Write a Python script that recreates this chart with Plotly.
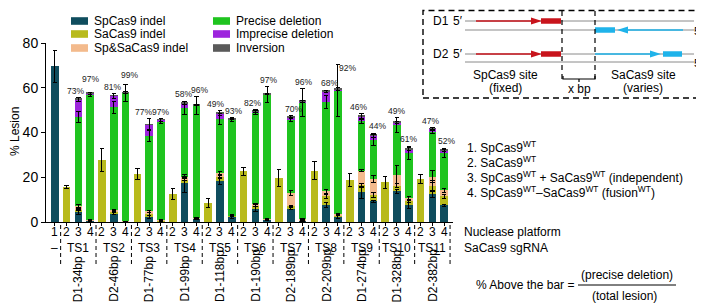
import plotly.graph_objects as go

# ---------------- data ----------------
bar_labels = ['1'] + ['2', '3', '4'] * 11
groups = ['TS%d' % i for i in range(1, 12)]
sites = ['D1-34bp', 'D2-46bp', 'D1-77bp', 'D1-99bp', 'D1-118bp', 'D1-190bp',
         'D2-189bp', 'D2-209bp', 'D1-274bp', 'D1-328bp', 'D2-382bp']

sp_indel = [69.5, None, 4.5, 0.5, None, 4.0, 0.2, None, 2.3, 0.3, None, 17.4, 1.5,
            None, 18.4, 2.5, None, 5.9, 1.0, None, 6.2, 0.5, None, 7.7, 2.5,
            None, 13.2, 9.2, None, 13.7, 7.4, None, 12.5, 7.4]
sa_indel = [None, 15.6, 1.0, 0.3, 27.8, 0.8, None, 21.5, 1.2, 0.2, 12.5, 1.8, None,
            8.3, 1.9, 0.2, 22.7, 1.4, 0.2, 19.6, 0.8, 0.3, 23.0, 3.7, 0.6,
            18.9, 3.2, 3.0, 17.7, 2.5, 1.8, 19.2, 3.7, 4.0]
spsa_indel = [None, None, 1.5, 0.2, None, 0.5, 0.1, None, 1.3, 0.2, None, 0.8, 0.2,
              None, 1.5, 0.2, None, 0.7, 0.2, None, 6.0, 0.5, None, 2.3, 0.5,
              None, 6.6, 7.1, None, 5.0, 1.5, None, 4.1, 2.7]
precise = [None, None, 40.0, 56.0, None, 45.9, 57.4, None, 33.8, 44.3, None, 31.0, 50.3,
           None, 24.1, 42.8, None, 41.0, 55.6, None, 32.8, 52.0, None, 40.0, 55.0,
           None, 22.0, 17.2, None, 22.2, 20.2, None, 20.0, 16.8]
imprecise = [None, None, 7.8, 0.5, None, 5.2, 0.2, None, 4.9, 0.6, None, 2.1, 0.2,
             None, 2.8, 0.3, None, 0.6, 0.2, None, 1.1, 0.6, None, 4.6, 0.8,
             None, 2.3, 2.1, None, 1.2, 1.7, None, 1.4, 1.0]
inversion = [None, None, 0.3, 0.2, None, 0.2, 0.1, None, 0.2, 0.2, None, 0.3, 0.1,
             None, 0.3, 0.2, None, 0.2, 0.2, None, 0.2, 0.2, None, 0.3, 0.3,
             None, 0.3, 0.3, None, 0.3, 0.3, None, 0.3, 0.3]

sp_err = [7.0, None, 1.1, 0.3, None, 0.6, 0.2, None, 0.6, 0.3, None, 4.0, 0.3,
          None, 1.5, 0.8, None, 1.0, 0.3, None, 0.8, 0.3, None, 1.1, 0.8,
          None, 2.8, 0.5, None, 1.0, 1.3, None, 1.5, 0.5]
sa_err = [None, 0.5, 0.5, 0.2, 5.2, 0.5, None, 2.4, 0.8, 0.2, 2.6, 0.5, None,
          2.0, 1.0, 0.2, 1.8, 0.5, 0.2, 3.8, 0.5, 0.2, 4.2, 0.8, 0.3,
          3.0, 0.8, 1.2, 2.6, 1.0, 0.5, 1.9, 2.5, 1.0]
spsa_err = [None, None, 0.7, 0.2, None, 0.3, 0.1, None, 0.5, 0.2, None, 0.5, 0.2,
            None, 0.8, 0.2, None, 0.3, 0.2, None, 1.3, 0.3, None, 0.8, 0.3,
            None, 0.5, 1.5, None, 4.0, 0.5, None, 2.5, 0.8]
precise_err = [None, None, 2.6, 1.1, None, 2.6, 3.7, None, 2.6, 1.1, None, 3.0, 4.0,
               None, 2.5, 0.8, None, 0.8, 3.5, None, 1.0, 6.2, None, 3.0, 11.6,
               None, 0.8, 2.5, None, 3.3, 3.0, None, 0.8, 2.0]
imprecise_err = [None, None, 0.8, 0.5, None, 1.0, 0.3, None, 2.7, 0.5, None, 0.6, 0.3,
                 None, 1.0, 0.3, None, 0.5, 0.3, None, 0.5, 0.4, None, 0.5, 0.5,
                 None, 1.0, 1.0, None, 0.5, 0.5, None, 0.5, 0.5]

pct_labels = ['73%', '97%', '81%', '99%', '77%', '97%', '58%', '96%', '49%', '93%', '82%',
              '97%', '70%', '96%', '68%', '92%', '46%', '44%', '49%', '61%', '47%', '52%']

series_names = ['SpCas9 indel', 'SaCas9 indel', 'Sp&SaCas9 indel',
                'Precise deletion', 'Imprecise deletion', 'Inversion']
platform_items = ['1. SpCas9<sup>WT</sup>', '2. SaCas9<sup>WT</sup>',
                  '3. SpCas9<sup>WT</sup> + SaCas9<sup>WT</sup> (independent)',
                  '4. SpCas9<sup>WT</sup>\u2013SaCas9<sup>WT</sup> (fusion<sup>WT</sup>)']

# ---------------- style ----------------
colors = ['#0f4d5e', '#b8ba1c', '#f3ba8c', '#1fc41f', '#9d24dd', '#5a5a5a']
FONT = 'Liberation Sans, Arial, sans-serif'
W, H = 704, 304
L, R, T, B = 38, 445, 35, 214
X_RANGE = [-0.74, 33.75]
ROW1, ROW2 = 224, 240
# per-label pixel offsets (styling)
lab_dx = [-3, 0, -1, 4, -6, 0, -1, 3, -4, 2, -3, 1, 3, 1, 3, 10, -3, 4, 0, 0, -2, 2]
lab_dy = [0, 6, 0, 3, 0, 0, 0, 0, 0, 0, 0, 0, 0, 0, 0, -10, 0, 0, 0, 0, 0, 0]


def px(x):
    return (x - L) / (R - L)


def py(y):
    return (B - y) / (B - T)


xs = list(range(len(bar_labels)))
segs = [sp_indel, sa_indel, spsa_indel, precise, imprecise, inversion]
errs = [sp_err, sa_err, spsa_err, precise_err, imprecise_err, None]

fig = go.Figure()
for name, vals, col in zip(series_names, segs, colors):
    fig.add_trace(go.Bar(x=xs, y=vals, name=name, marker_color=col,
                         marker_line_width=0, width=0.65, showlegend=False))
# overlay copy carrying the error bars so whiskers draw above all segments
for vals, e in zip(segs, errs):
    kw = {}
    if e is not None:
        kw['error_y'] = dict(type='data', array=e, visible=True, color='black',
                             thickness=1, width=2.2)
    fig.add_trace(go.Bar(x=xs, y=vals, xaxis='x2', yaxis='y',
                         marker_color='rgba(0,0,0,0)', marker_line_width=0,
                         width=0.65, showlegend=False, hoverinfo='skip', **kw))

annotations = []
shapes = []


def txt(x, y, t, xref='paper', anchor='center', size=12, **kw):
    annotations.append(dict(x=x, y=y, xref=xref, yref='paper', text=t, showarrow=False,
                            xanchor=anchor, yanchor=kw.pop('yanchor', 'middle'),
                            borderpad=0,
                            font=dict(size=size, family=FONT, color='black'), **kw))


# percentage labels above bars 3 and 4 of each group
k = 0
for g in range(len(groups)):
    for b in (2, 3):
        i = 3 * g + b
        cum = 0
        top = 0
        for vals, e in zip(segs, errs):
            v = vals[i]
            if v is None:
                continue
            cum += v
            ev = (e[i] if (e is not None and e[i] is not None) else 0)
            top = max(top, cum + ev)
        annotations.append(dict(x=i, y=top, xref='x', yref='y', text=pct_labels[k],
                                showarrow=False, yanchor='bottom', xanchor='center',
                                xshift=lab_dx[k], yshift=1 + lab_dy[k], borderpad=0,
                                font=dict(size=8.5, family=FONT, color='#222')))
        k += 1

# nuclease platform row (under each bar)
for i, lab in zip(xs, bar_labels):
    txt(i, py(ROW1), lab, xref='x')
# group labels row and rotated site labels
txt(0, py(ROW2), '\u2013', xref='x')
for g, (ts, site) in enumerate(zip(groups, sites)):
    c = 3 * g + 2
    txt(c, py(ROW2), ts, xref='x')
    txt(c, py(295), site, xref='x', textangle=-90, yanchor='bottom')
# dashed separators
for g in range(len(groups) + 1):
    xsep = 3 * g + 0.5
    shapes.append(dict(type='line', xref='x', yref='paper', x0=xsep, x1=xsep,
                       y0=py(217), y1=py(257),
                       line=dict(color='black', width=1, dash='4px,3px')))

# manual legend
leg_rows = [13, 26, 40]
for j, (name, col) in enumerate(zip(series_names, colors)):
    colx = 63 if j < 3 else 205
    yy = leg_rows[j % 3]
    shapes.append(dict(type='rect', xref='paper', yref='paper',
                       x0=px(colx), x1=px(colx + 17), y0=py(yy - 3.8), y1=py(yy + 3.8),
                       fillcolor=col, line=dict(width=0)))
    txt(px(colx + 22), py(yy), name, anchor='left')

# platform list
for j, t in enumerate(platform_items):
    txt(px(458), py(139 + 15 * j), t, anchor='left')
txt(px(455), py(ROW1), 'Nuclease platform', anchor='left')
txt(px(455), py(ROW2), 'SaCas9 sgRNA', anchor='left')
# formula
txt(px(567), py(277), '% Above the bar =', anchor='right')
txt(px(619), py(267), '(precise deletion)')
txt(px(616), py(288), '(total lesion)')
shapes.append(dict(type='line', xref='paper', yref='paper', x0=px(570), x1=px(668),
                   y0=py(277), y1=py(277), line=dict(color='black', width=1)))

# ---------------- diagram ----------------
RED = '#c8141c'
BLUE = '#1fb3ea'
GRAY = '#8a8a8a'


def hline(x0, x1, y, col, w=1.0):
    shapes.append(dict(type='line', xref='paper', yref='paper', x0=px(x0), x1=px(x1),
                       y0=py(y), y1=py(y), line=dict(color=col, width=w)))


def vline(x, y0, y1, col='black', w=1.2, dash='5px,4px'):
    shapes.append(dict(type='line', xref='paper', yref='paper', x0=px(x), x1=px(x),
                       y0=py(y0), y1=py(y1), line=dict(color=col, width=w, dash=dash)))


def rect(x0, x1, yc, col, h=5.5):
    shapes.append(dict(type='rect', xref='paper', yref='paper', x0=px(x0), x1=px(x1),
                       y0=py(yc - h / 2), y1=py(yc + h / 2), fillcolor=col,
                       line=dict(width=0)))


def tri(xtip, yc, direction, col, ln=11, half=3.6):
    xb = xtip - ln * direction
    path = 'M %f %f L %f %f L %f %f Z' % (px(xtip), py(yc), px(xb), py(yc - half),
                                          px(xb), py(yc + half))
    shapes.append(dict(type='path', xref='paper', yref='paper', path=path,
                       fillcolor=col, line=dict(width=0)))


# dashed box
shapes.append(dict(type='rect', xref='paper', yref='paper', x0=px(415), x1=px(702),
                   y0=py(90), y1=py(2.5), line=dict(color='black', width=1.4,
                                                     dash='6px,4px')))
for (yu, yl, tag) in ((13, 22, 'D1'), (46, 54, 'D2')):
    hline(457, 686, yu, GRAY)
    hline(457, 686, yl, GRAY)
    txt(px(424), py(yu), tag, anchor='left')
    txt(px(444), py(yu), '5\u2032', anchor='left')
    txt(px(696), py(yl + 1), '5\u2032', anchor='right', size=11.5)
    hline(468, 523, yu, RED, 1.6)
    tri(534, yu, 1, RED)
    rect(533, 553, yu, RED)
# D1 SaCas9 site on bottom strand pointing left
rect(587, 607, 22, BLUE)
hline(620, 675, 22, BLUE, 1.6)
tri(609, 22, -1, BLUE)
# D2 SaCas9 site on top strand pointing right
hline(587, 642, 46, BLUE, 1.6)
tri(653, 46, 1, BLUE)
rect(655, 674, 46, BLUE)
# dashed verticals and brace
vline(554, 3, 72)
vline(587, 3, 72)
brace = 'M %f %f L %f %f L %f %f L %f %f M %f %f L %f %f' % (
    px(555), py(68), px(555), py(71), px(587), py(71), px(587), py(68),
    px(571), py(71), px(571), py(74))
shapes.append(dict(type='path', xref='paper', yref='paper', path=brace,
                   line=dict(color='black', width=1.2)))
txt(px(497), py(67), 'SpCas9 site')
txt(px(497), py(80), '(fixed)')
txt(px(571), py(81), 'x bp')
txt(px(635), py(67), 'SaCas9 site')
txt(px(635), py(80), '(varies)')

# y axis title
txt(px(7), py(123), '% Lesion', textangle=-90)

fig.update_layout(
    width=W, height=H, margin=dict(l=L, r=W - R, t=T, b=H - B),
    paper_bgcolor='white', plot_bgcolor='white', barmode='stack', bargap=0.35,
    font=dict(family=FONT, size=12, color='black'),
    xaxis=dict(range=X_RANGE, tickmode='array', tickvals=xs, showticklabels=False,
               ticks='outside', ticklen=3, tickwidth=1, tickcolor='black',
               showline=True, linecolor='black', linewidth=1, showgrid=False,
               zeroline=False),
    xaxis2=dict(range=X_RANGE, overlaying='x', visible=False, showgrid=False,
                zeroline=False),
    yaxis=dict(range=[0, 80], tickvals=[0, 20, 40, 60, 80], ticks='outside',
               ticklen=4, tickwidth=1, tickcolor='black', showline=True,
               linecolor='black', linewidth=1, showgrid=False, zeroline=False,
               tickfont=dict(size=14, family=FONT, color='black')),
    annotations=annotations, shapes=shapes,
)

fig.write_html('out.html')
